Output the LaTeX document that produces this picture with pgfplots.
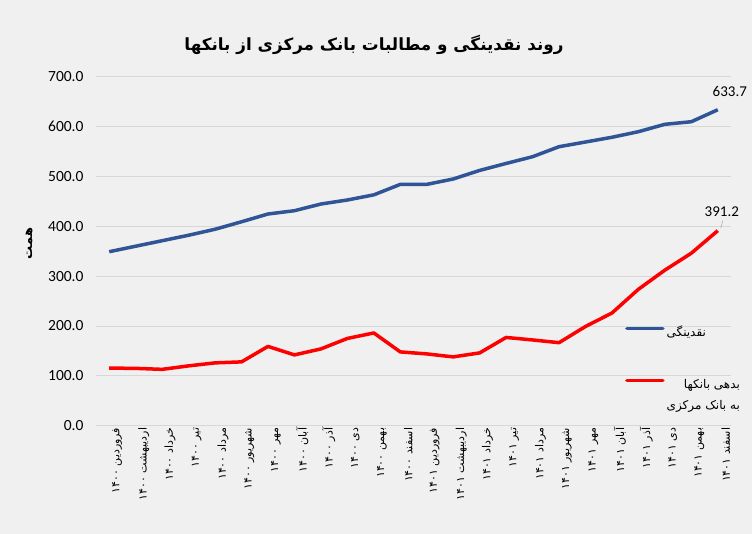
\documentclass[border=0pt]{standalone}
\usepackage{fontspec}
\usepackage{pgfplots}
\pgfplotsset{compat=1.18}
\setmainfont{Carlito}
\newfontfamily\arabicfont[Script=Arabic]{DejaVu Sans}
\TeXXeTstate=1
\definecolor{bg}{RGB}{240,240,240}
\definecolor{gridc}{RGB}{215,215,215}
\definecolor{liq}{RGB}{47,85,151}
\newcommand{\R}[1]{\beginR #1\endR}
\newcommand{\lab}[2]{\beginR #1 \beginL #2\endL\endR}
\begin{document}
\begin{tikzpicture}[x=1bp,y=1bp]
\useasboundingbox (0,0) rectangle (752,534);
\fill[bg] (0,0) rectangle (752,534);
\node[font=\arabicfont\bfseries\fontsize{16.8bp}{20bp}\selectfont] at (374,489) {\R{روند نقدینگی و مطالبات بانک مرکزی از بانکها}};
\begin{axis}[
  at={(96bp,108.3bp)}, anchor=south west,
  scale only axis, width=635bp, height=349bp,
  clip=false,
  xmin=-0.5, xmax=23.5, ymin=0, ymax=700,
  ytick={0,100,...,700},
  xtick={0,...,23},
  xticklabels={\lab{فروردین}{۱۴۰۰},\lab{اردیبهشت}{۱۴۰۰},\lab{خرداد}{۱۴۰۰},\lab{تیر}{۱۴۰۰},\lab{مرداد}{۱۴۰۰},\lab{شهریور}{۱۴۰۰},\lab{مهر}{۱۴۰۰},\lab{آبان}{۱۴۰۰},\lab{آذر}{۱۴۰۰},\lab{دی}{۱۴۰۰},\lab{بهمن}{۱۴۰۰},\lab{اسفند}{۱۴۰۰},\lab{فروردین}{۱۴۰۱},\lab{اردیبهشت}{۱۴۰۱},\lab{خرداد}{۱۴۰۱},\lab{تیر}{۱۴۰۱},\lab{مرداد}{۱۴۰۱},\lab{شهریور}{۱۴۰۱},\lab{مهر}{۱۴۰۱},\lab{آبان}{۱۴۰۱},\lab{آذر}{۱۴۰۱},\lab{دی}{۱۴۰۱},\lab{بهمن}{۱۴۰۱},\lab{اسفند}{۱۴۰۱}},
  ymajorgrids, grid style={gridc, line width=0.75bp},
  axis line style={draw=none},
  major tick length=0pt,
  /pgf/number format/assume math mode=true,
  yticklabel style={font=\fontsize{15.5bp}{18bp}\selectfont, /pgf/number format/fixed, /pgf/number format/fixed zerofill, /pgf/number format/precision=1, xshift=-9bp},
  xticklabel style={rotate=90, anchor=east, font=\arabicfont\fontsize{11bp}{13bp}\selectfont, inner sep=2bp, yshift=-8bp},
  every axis y label/.style={at={(axis description cs:-0.1055,0.522)}, rotate=90, anchor=center, font=\arabicfont\bfseries\fontsize{13bp}{15bp}\selectfont},
  ylabel={\R{همت}},
  legend style={at={(axis description cs:0.833,0.292)}, anchor=north west, draw=none, fill=none, inner sep=0pt, row sep=36bp, font=\arabicfont\fontsize{12bp}{14bp}\selectfont, nodes={inner sep=2bp}},
  legend cell align=left,
  legend image code/.code={\draw[#1, line cap=round] (0bp,3.5bp) -- (36bp,3.5bp);},
]
\addplot[liq, line width=3.5bp, line join=round, mark=none] coordinates {
(0,349) (1,360) (2,371) (3,382) (4,394) (5,409) (6,424.6) (7,431.2) (8,444.6) (9,452.7) (10,463) (11,484)
(12,484) (13,494.8) (14,512) (15,526) (16,539.5) (17,559.6) (18,569) (19,578.5) (20,589.7) (21,604.5) (22,609.7) (23,633.7)};
\addlegendentry{\R{نقدینگی}}
\addplot[red, line width=3.5bp, line join=round, mark=none] coordinates {
(0,115.5) (1,115) (2,113) (3,120) (4,126) (5,128) (6,159) (7,142) (8,154) (9,175) (10,186) (11,148)
(12,144) (13,138) (14,146) (15,177) (16,172) (17,166.5) (18,199) (19,226) (20,273.6) (21,312) (22,346) (23,391.2)};
\addlegendentry{\begin{tabular}[t]{@{}r@{}}\R{بدهی بانکها}\\[7bp]\R{به بانک مرکزی}\end{tabular}}
\node[font=\fontsize{15bp}{18bp}\selectfont] at (axis cs:23,633.7) [xshift=12bp,yshift=18bp] {633.7};
\node[font=\fontsize{15bp}{18bp}\selectfont] at (axis cs:23,391.2) [xshift=4bp,yshift=19bp] {391.2};
\draw[gray!70, line width=0.5bp] ([xshift=3bp,yshift=2.5bp]axis cs:23,391.2) -- ([xshift=5bp,yshift=10bp]axis cs:23,391.2);
\end{axis}
\end{tikzpicture}
\end{document}
